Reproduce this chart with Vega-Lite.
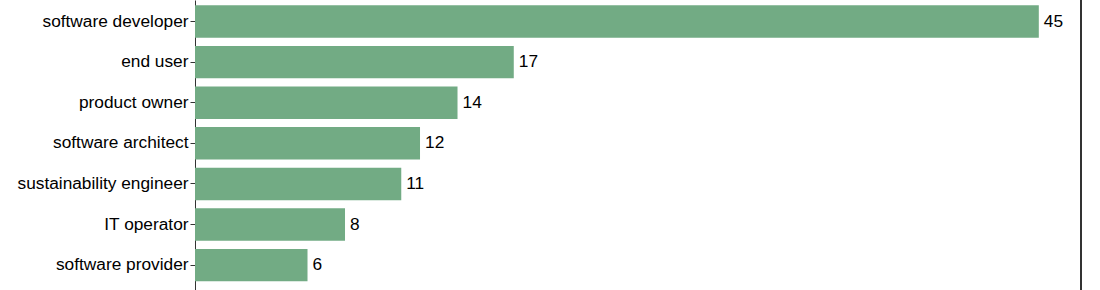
{
  "$schema": "https://vega.github.io/schema/vega-lite/v6.json",
  "autosize": {"type": "none"},
  "padding": {"left": 195, "top": 0, "right": 19, "bottom": 0},
  "width": 886,
  "height": 290,
  "background": "white",
  "config": {"view": {"stroke": null}, "font": "Liberation Sans"},
  "data": {"values": [
    {"role": "software developer", "count": 45},
    {"role": "end user", "count": 17},
    {"role": "product owner", "count": 14},
    {"role": "software architect", "count": 12},
    {"role": "sustainability engineer", "count": 11},
    {"role": "IT operator", "count": 8},
    {"role": "software provider", "count": 6}
  ]},
  "layer": [
    {"mark": {"type": "bar", "color": "#72ab84"},
     "encoding": {
       "y": {"field": "role", "type": "nominal", "sort": null,
         "scale": {"paddingInner": 0.2, "paddingOuter": 0.1714, "align": 0.38},
         "axis": {"title": null, "labelFont": "Liberation Sans", "labelFontSize": 17.3, "labelColor": "black",
           "tickSize": 5, "tickColor": "#333", "domainColor": "#333", "labelPadding": 2, "grid": false}},
       "x": {"field": "count", "type": "quantitative", "scale": {"domain": [0, 47.25], "nice": false}, "axis": null}}},
    {"mark": {"type": "text", "align": "left", "baseline": "middle", "dx": 5, "fontSize": 17.3, "font": "Liberation Sans", "color": "black"},
     "encoding": {
       "y": {"field": "role", "type": "nominal", "sort": null},
       "x": {"field": "count", "type": "quantitative"}, "text": {"field": "count"}}},
    {"mark": {"type": "rule", "color": "#333", "strokeWidth": 1},
     "encoding": {"x": {"datum": 47.25}}}
  ]
}
